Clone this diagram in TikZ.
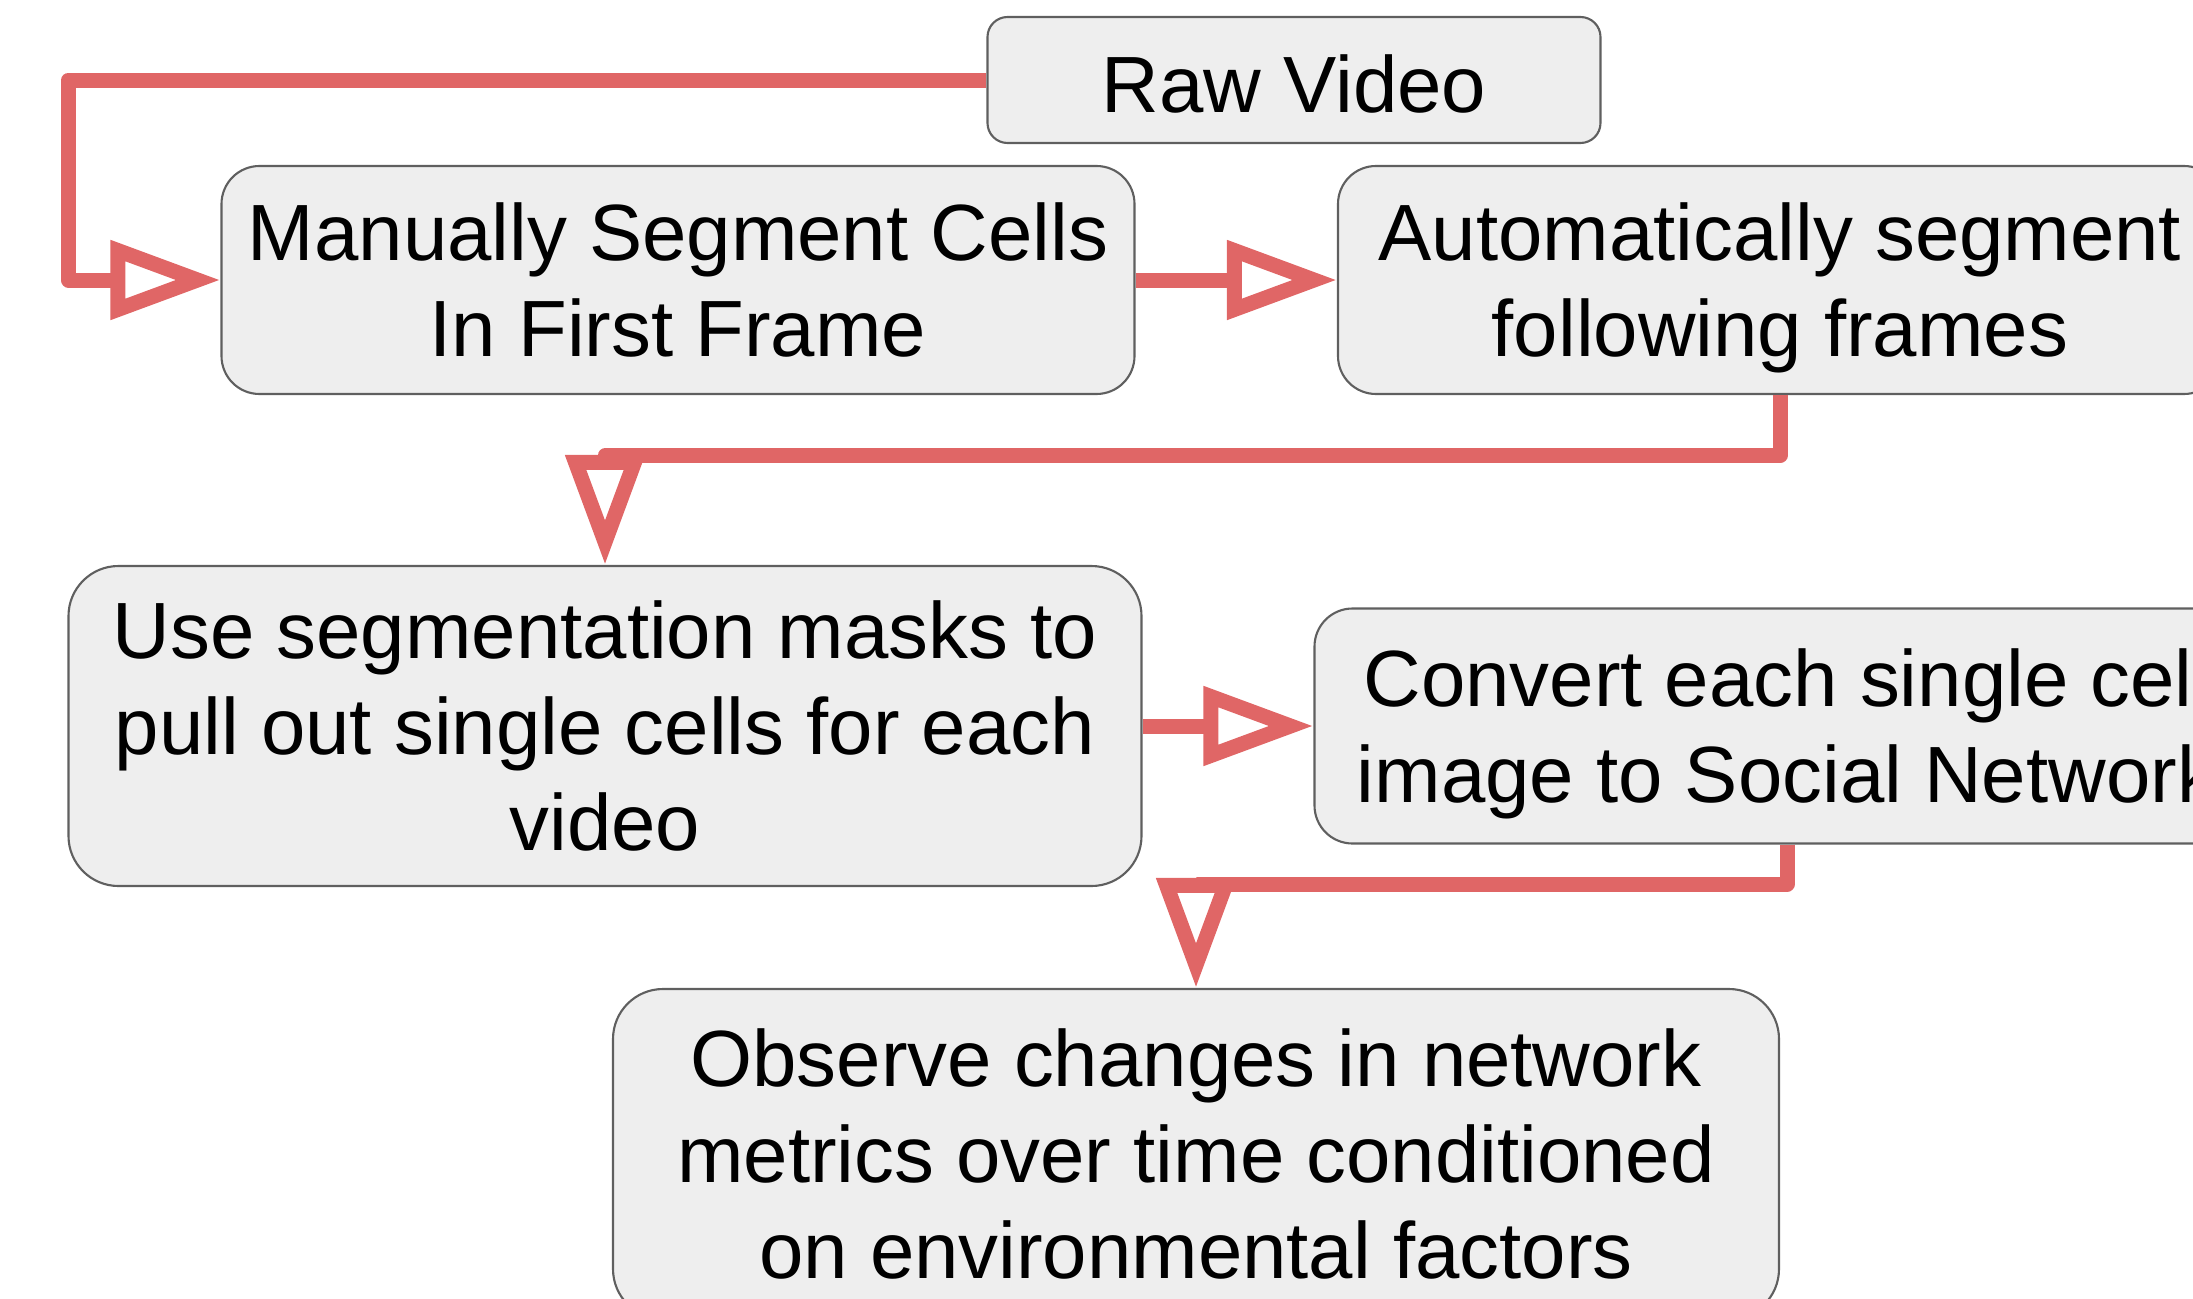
\documentclass[tikz,border=0pt]{standalone}
\usepackage{fontspec}
\setmainfont{Liberation Sans}
\usetikzlibrary{arrows.meta, positioning}
\definecolor{boxfill}{HTML}{EEEEEE}
\definecolor{boxline}{HTML}{5F5F5F}
\definecolor{linkred}{HTML}{E06666}
\tikzstyle{process} = [
  rectangle,
  rounded corners=0.38cm,
  minimum width=9cm,
  minimum height=2.28cm,
  inner sep=0pt,
  text depth=0pt,
  align=center,
  draw=boxline,
  line width=0.6pt,
  fill=boxfill,
  font=\fontsize{22.7}{27.3}\selectfont
]
\tikzstyle{arrow} = [line width=0.15cm, draw=linkred, line join=round, -{Triangle[open, length=1.1cm, width=0.76cm]}]

\begin{document}
\begin{tikzpicture}[node distance=1cm]
    \useasboundingbox (0,0) rectangle (21.93,-12.99);
    \clip (0,0) rectangle (21.93,-12.99);

    \node (manual-segment) [process, minimum width=9.13cm] at (6.78,-2.80) {Manually Segment Cells\\In First Frame};
    \node (raw-video) [process, above of=manual-segment, xshift=6.16cm, yshift=1cm, minimum width=6.13cm, minimum height=1.26cm, rounded corners=0.2cm, text height=18.6pt] {Raw Video};
    \node (auto-segment) [process, right of=manual-segment, xshift=10.02cm, minimum width=8.84cm] {Automatically segment\\following frames};
    \node (seg-masks) [process, below of=manual-segment, xshift=-0.73cm, yshift=-3.46cm, minimum width=10.73cm, minimum height=3.2cm, rounded corners=0.5cm] {Use segmentation masks to\\pull out single cells for each\\video};
    \node (convert-network) [process, right of=seg-masks, xshift=10.82cm, minimum width=9.45cm, minimum height=2.35cm] {Convert each single cell\\image to Social Network};
    \node (observe-changes) [process, below of=seg-masks, xshift=5.91cm, yshift=-3.28cm, minimum width=11.66cm, minimum height=3.3cm, rounded corners=0.5cm] {Observe changes in network\\metrics over time conditioned\\on environmental factors};

    \draw [arrow] (raw-video.west) -- ++(-9.18,0) |- (manual-segment.west);
    \draw [arrow] (manual-segment) -- (auto-segment);
    \draw [arrow] (auto-segment.south) -- ++(0,-0.605) -| (seg-masks.north);
    \draw [arrow] (seg-masks) -- (convert-network);
    \draw [arrow] (convert-network.south) -- ++(0,-0.395) -| (observe-changes.north);
\end{tikzpicture}
\end{document}
